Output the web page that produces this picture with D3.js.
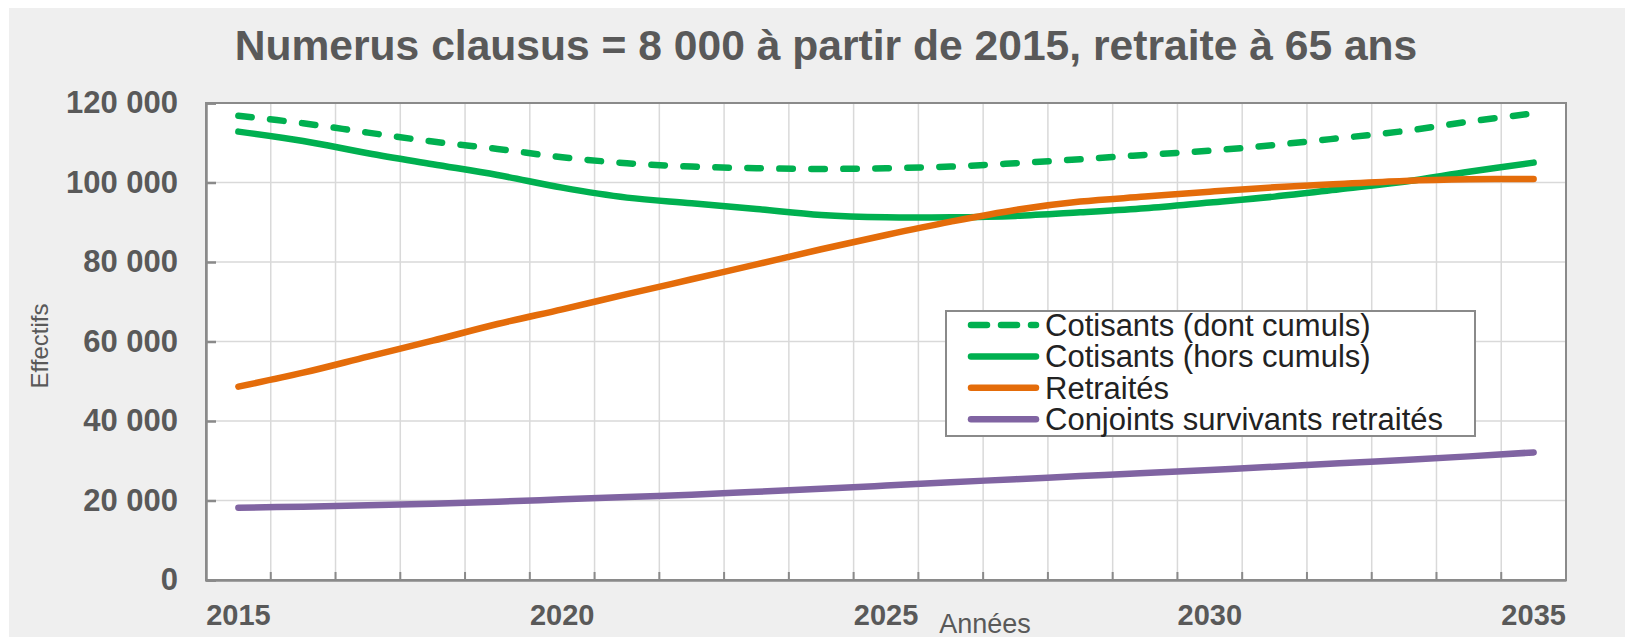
<!DOCTYPE html>
<html>
<head>
<meta charset="utf-8">
<script src="https://cdn.jsdelivr.net/npm/d3@7"></script>
<style>
  body { margin: 0; background: #fff; }
  svg { display: block; font-family: "Liberation Sans", Arial, sans-serif; }
</style>
</head>
<body>
<svg id="chart" width="1625" height="638"></svg>
<script>
// categories and series
const years = [2015, 2016, 2017, 2018, 2019, 2020, 2021, 2022, 2023, 2024, 2025,
               2026, 2027, 2028, 2029, 2030, 2031, 2032, 2033, 2034, 2035];
const labelYears = [2015, 2020, 2025, 2030, 2035];
const yTicks = [0, 20000, 40000, 60000, 80000, 100000, 120000];

const cotisantsDont = [116800, 114900, 112550, 110300, 108450, 106350, 104850, 104000, 103600, 103400, 103600,
                       104000, 104850, 105850, 106950, 108000, 109450, 111150, 112950, 115300, 117400];
const cotisantsHors = [112800, 110450, 107350, 104600, 101900, 98700, 96200, 94800, 93350, 91850, 91250,
                       91250, 91600, 92500, 93500, 94950, 96450, 98300, 100200, 102700, 105000];
const retraites = [48650, 52150, 56200, 60200, 64400, 68100, 71900, 75650, 79400, 83200, 86800,
                   90150, 93100, 95200, 96450, 97700, 98800, 99650, 100400, 100800, 100900];
const conjoints = [18200, 18450, 18800, 19200, 19700, 20300, 20900, 21450, 22200, 22950, 23750,
                   24600, 25350, 26150, 26900, 27700, 28500, 29350, 30200, 31100, 32100];

const series = [
  { name: "Cotisants (dont cumuls)", values: cotisantsDont, color: "#00b050", dash: "13.5,18.5" },
  { name: "Cotisants (hors cumuls)", values: cotisantsHors, color: "#00b050", dash: null },
  { name: "Retraités", values: retraites, color: "#e46c0a", dash: null },
  { name: "Conjoints survivants retraités", values: conjoints, color: "#8064a2", dash: null }
];

const svg = d3.select("#chart");
const plotL = 206, plotR = 1566, plotT = 103, plotB = 580;
const textGray = "#595959";

// chart background
svg.append("rect").attr("x", 9).attr("y", 8).attr("width", 1616).attr("height", 629)
   .attr("fill", "#efefef");
svg.append("rect").attr("x", plotL).attr("y", plotT).attr("width", plotR - plotL).attr("height", plotB - plotT)
   .attr("fill", "#fff");

const x = d3.scaleBand().domain(years).range([plotL, plotR]).padding(0);
const y = d3.scaleLinear().domain([0, 120000]).range([plotB, plotT]);
const cx = d => x(d) + x.bandwidth() / 2;

const fr = d3.formatLocale({ decimal: ",", thousands: " ", grouping: [3], currency: ["", " €"] });
const fmt = fr.format(",d");

// gridlines
const grid = svg.append("g").attr("stroke", "#d9d9d9").attr("stroke-width", 1.5);
grid.selectAll("line.h").data(yTicks.slice(1)).enter().append("line")
    .attr("x1", plotL).attr("x2", plotR).attr("y1", d => y(d)).attr("y2", d => y(d));
grid.selectAll("line.v").data(years.slice(1)).enter().append("line")
    .attr("x1", d => x(d)).attr("x2", d => x(d)).attr("y1", plotT).attr("y2", plotB);

// lines
const line = d3.line()
    .x((d, i) => cx(years[i]))
    .y(d => y(d))
    .curve(d3.curveCatmullRom.alpha(0.5));

svg.append("g").selectAll("path")
    .data(series).enter().append("path")
    .attr("d", d => line(d.values))
    .attr("fill", "none")
    .attr("stroke", d => d.color)
    .attr("stroke-width", 6.5)
    .attr("stroke-linecap", "round")
    .attr("stroke-linejoin", "round")
    .attr("stroke-dasharray", d => d.dash);

// frame and axes
svg.append("rect").attr("x", plotL).attr("y", plotT).attr("width", plotR - plotL).attr("height", plotB - plotT)
   .attr("fill", "none").attr("stroke", "#8a8a8a").attr("stroke-width", 2);

const yAxis = svg.append("g").attr("transform", `translate(${plotL},0)`)
    .call(d3.axisLeft(y).tickValues(yTicks).tickSize(-10).tickPadding(28).tickFormat(fmt));
yAxis.select(".domain").attr("stroke", "#8a8a8a").attr("stroke-width", 2.5);
yAxis.selectAll(".tick line").attr("stroke", "#8a8a8a").attr("stroke-width", 2.5);
yAxis.selectAll(".tick text")
    .attr("font-size", 31).attr("font-weight", "bold").attr("fill", textGray)
    .attr("font-family", "Liberation Sans, Arial, sans-serif");

const xAxis = svg.append("g").attr("transform", `translate(0,${plotB})`)
    .call(d3.axisBottom(x).tickValues(labelYears).tickSize(0).tickPadding(24));
xAxis.select(".domain").attr("stroke", "#8a8a8a").attr("stroke-width", 2.5);
xAxis.selectAll(".tick text")
    .attr("font-size", 29).attr("font-weight", "bold").attr("fill", textGray)
    .attr("font-family", "Liberation Sans, Arial, sans-serif");
xAxis.selectAll("line.bt").data(years.slice(1)).enter().append("line")
    .attr("class", "bt")
    .attr("x1", d => x(d)).attr("x2", d => x(d)).attr("y1", 0).attr("y2", -8)
    .attr("stroke", "#8a8a8a").attr("stroke-width", 2);

// titles
svg.append("text").attr("x", 826).attr("y", 60).attr("text-anchor", "middle")
   .attr("font-size", 42.6).attr("font-weight", "bold").attr("fill", textGray)
   .text("Numerus clausus = 8 000 à partir de 2015, retraite à 65 ans");
svg.append("text").attr("transform", "translate(48,346) rotate(-90)").attr("text-anchor", "middle")
   .attr("font-size", 24).attr("fill", textGray).text("Effectifs");
svg.append("text").attr("x", 985).attr("y", 633).attr("text-anchor", "middle")
   .attr("font-size", 27).attr("fill", textGray).text("Années");

// legend
const legend = svg.append("g");
legend.append("rect").attr("x", 946).attr("y", 311).attr("width", 529).attr("height", 125)
    .attr("fill", "#fff").attr("stroke", "#8a8a8a").attr("stroke-width", 2);
const rows = legend.selectAll("g.row").data(series).enter().append("g")
    .attr("transform", (d, i) => `translate(0,${325 + i * 31.4})`);
rows.append("line").attr("x1", 971).attr("x2", 1036).attr("y1", 0).attr("y2", 0)
    .attr("stroke", d => d.color).attr("stroke-width", 6.5).attr("stroke-linecap", "round")
    .attr("stroke-dasharray", d => d.dash ? "16,14" : null);
rows.append("text").attr("x", 1045).attr("y", 0).attr("dy", "0.35em")
    .attr("font-size", 31).attr("fill", "#222").text(d => d.name);
</script>
</body>
</html>
